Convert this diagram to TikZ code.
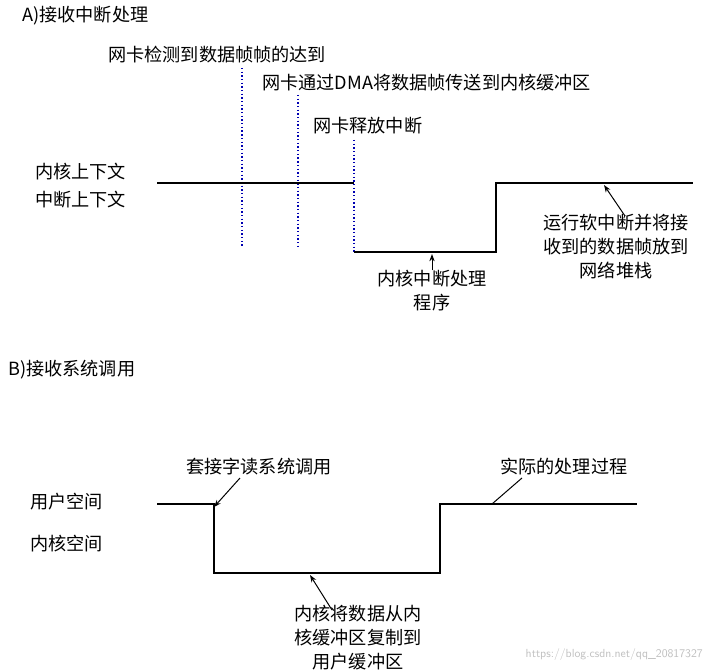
\documentclass[tikz,border=0pt]{standalone}
\usepackage{fontspec}
\newfontfamily\cjk{Noto Sans CJK SC}
\usetikzlibrary{arrows.meta}
\tikzset{
  lbl/.style={inner sep=0pt, font=\cjk\fontsize{15.5}{20.5}\selectfont, align=center},
  level/.style={line width=0.7mm},
  eventline/.style={blue!70!black, dotted, line width=0.4mm},
  point/.style={-{Stealth[length=2.2mm,width=1.6mm]}, line width=0.3mm}
}
\begin{document}
\begin{tikzpicture}[x=0.3mm,y=-0.3mm]
    \useasboundingbox (0,0) rectangle (711,672);
    % part A
    \node[lbl, anchor=west] (ta) at (22,16) {A)接收中断处理};
    \node[lbl, anchor=west] (e1) at (108,55) {网卡检测到数据帧帧的达到};
    \node[lbl, anchor=west] (e2) at (262,83) {网卡通过DMA将数据帧传送到内核缓冲区};
    \node[lbl, anchor=west] (e3) at (313,126) {网卡释放中断};
    \node[lbl, anchor=west] (kc) at (35,172) {内核上下文};
    \node[lbl, anchor=west] (ic) at (35,200) {中断上下文};
    \node[lbl] (isr) at (432,291) {内核中断处理\\程序};
    \node[lbl] (soft) at (616,247) {运行软中断并将接\\收到的数据帧放到\\网络堆栈};

    \draw[eventline] (242,68) -- (242,248);
    \draw[eventline] (298,95) -- (298,248);
    \draw[eventline] (354,140) -- (354,252);
    \draw[level] (157,183) -- (354,183);
    \draw[level] (354,252) -- (496,252) -- (496,183) -- (693,183);

    \coordinate (a1) at (432,254);
    \coordinate (a2) at (604,185);
    \draw[point] (isr.north) -- (a1);
    \draw[point] (625,216) -- (a2);

    % part B
    \node[lbl, anchor=west] (tb) at (8,370) {B)接收系统调用};
    \node[lbl, anchor=west] (sys) at (186,467) {套接字读系统调用};
    \node[lbl, anchor=west] (real) at (500,467) {实际的处理过程};
    \node[lbl, anchor=west] (us) at (30,502) {用户空间};
    \node[lbl, anchor=west] (ks) at (30,544) {内核空间};
    \node[lbl] (copy) at (358,638) {内核将数据从内\\核缓冲区复制到\\用户缓冲区};

    \draw[level] (157,504) -- (214,504) -- (214,573) -- (440,573) -- (440,504) -- (637,504);

    \coordinate (b1) at (214,507);
    \coordinate (b2) at (492,504);
    \coordinate (b3) at (310,575);
    \draw[point] (240,478) -- (b1);
    \draw[line width=0.3mm] (522,478) -- (b2);
    \draw[point] (332,610) -- (b3);

    \node[inner sep=0pt, anchor=east, text=gray!50, font=\sffamily\fontsize{10}{12}\selectfont] (wm) at (703,655) {https://blog.csdn.net/qq\_20817327};
\end{tikzpicture}
\end{document}
